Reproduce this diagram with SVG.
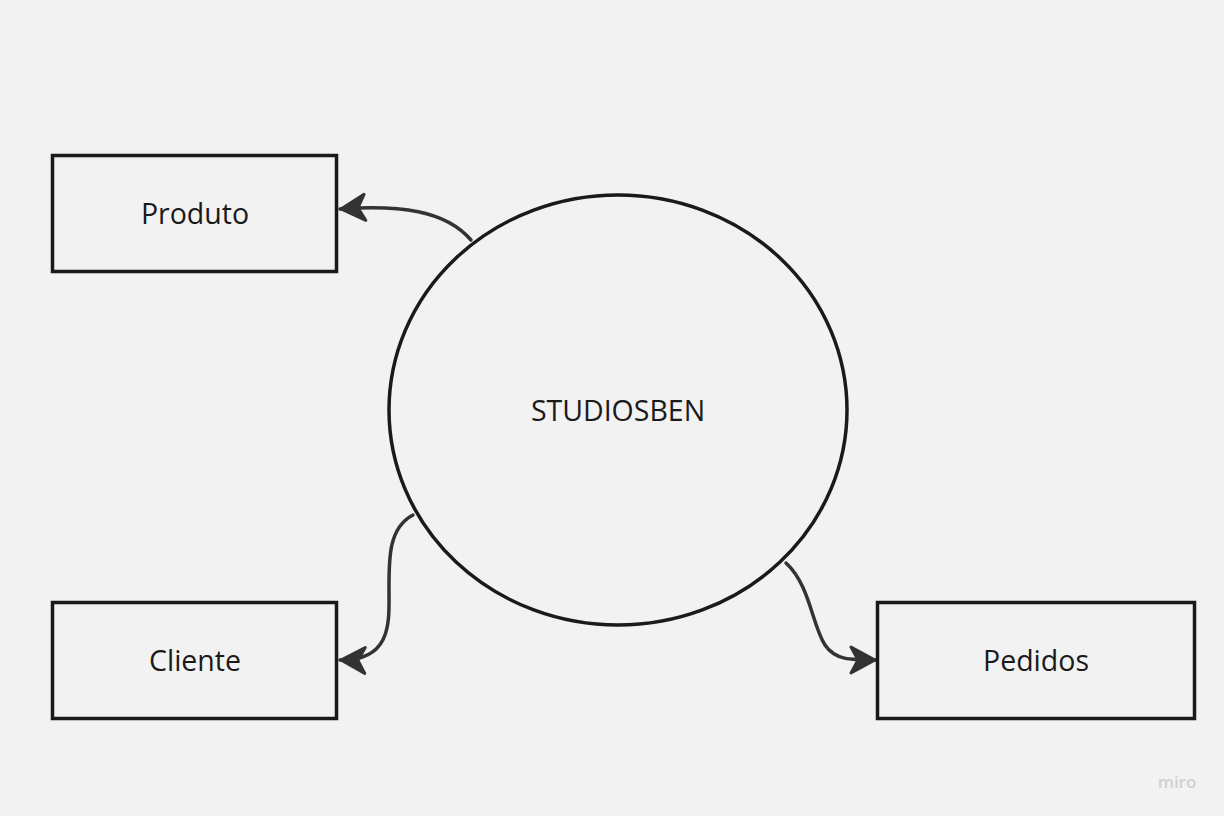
<svg xmlns="http://www.w3.org/2000/svg" width="1224" height="816" viewBox="0 0 1224 816">
<style>
.box{fill:none;stroke:#1a1a1a;stroke-width:3.5}
.lbl{font-family:"Open Sans",sans-serif;font-size:28.5px;fill:#1a1a1a;text-anchor:middle;dominant-baseline:central}
.conn{fill:none;stroke:#333;stroke-width:3.5;stroke-linecap:round}
</style>
<defs>
<marker id="ah" markerUnits="userSpaceOnUse" viewBox="-32 -18 34 36" refX="0" refY="0" markerWidth="34" markerHeight="36" orient="auto">
<path d="M-1,0 L-25,-13 L-18,0 L-25,13 Z" fill="#333" stroke="#333" stroke-width="3" stroke-linejoin="round"/>
</marker>
</defs>
<rect width="1224" height="816" fill="#f2f2f2"/>
<g id="connectors">
<path class="conn" d="M471,240 C445,210 400,205 340,209" marker-end="url(#ah)"/>
<path class="conn" d="M413,515 C388,528 389,560 389,590 C389,620 393,661 340,660" marker-end="url(#ah)"/>
<path class="conn" d="M786,563 C810,585 812,625 825,645 C835,660 850,660 876,660" marker-end="url(#ah)"/>
</g>
<g id="studiosben">
<ellipse class="box" cx="618" cy="410" rx="229" ry="215"/>
<text class="lbl" x="618" y="410">STUDIOSBEN</text>
</g>
<g id="produto">
<rect class="box" x="52.5" y="155.5" width="284" height="116"/>
<text class="lbl" x="195" y="213">Produto</text>
</g>
<g id="cliente">
<rect class="box" x="52.5" y="602.5" width="284" height="116"/>
<text class="lbl" x="195" y="660">Cliente</text>
</g>
<g id="pedidos">
<rect class="box" x="877.5" y="602.5" width="317" height="116"/>
<text class="lbl" x="1036" y="660">Pedidos</text>
</g>
<text x="1177" y="788" font-family="Open Sans, sans-serif" font-size="17" font-weight="600" fill="#d0d0d5" text-anchor="middle">miro</text>
</svg>
